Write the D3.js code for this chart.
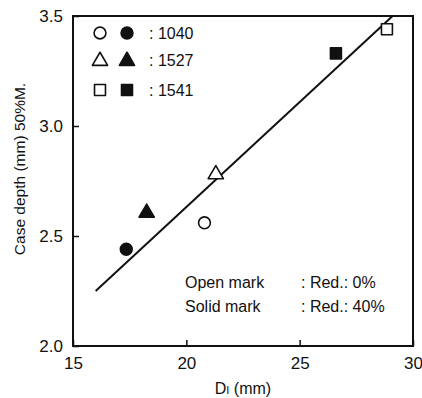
<!DOCTYPE html>
<html>
<head>
<meta charset="utf-8">
<script src="https://cdn.jsdelivr.net/npm/d3@7"></script>
<style>
  body { margin: 0; background: #fff; }
  svg text { font-family: "Liberation Sans", Arial, sans-serif; fill: #111; }
</style>
</head>
<body>
<div id="chart"></div>
<script>
// steels and their markers
const steels = ["1040", "1527", "1541"];
const shapes = ["circle", "triangle", "square"];

// measured points: DI (mm), case depth (mm)
const openPoints = [
	{ steel: "1040", di: 20.8, depth: 2.56 },
	{ steel: "1527", di: 21.3, depth: 2.785 },
	{ steel: "1541", di: 28.85, depth: 3.44 },
];
const solidPoints = [
	{ steel: "1040", di: 17.35, depth: 2.44 },
	{ steel: "1527", di: 18.25, depth: 2.61 },
	{ steel: "1541", di: 26.6, depth: 3.33 },
];

// fitted line end points
const fitLine = [[16.0, 2.25], [29.1, 3.5]];

const xTicks = [15, 20, 25, 30];
const yTicks = [2.0, 2.5, 3.0, 3.5];

const width = 422;
const height = 398;
const margins = { top: 16, right: 9, bottom: 52, left: 73 };

const svg = d3
	.select("#chart")
	.append("svg")
	.attr("width", width)
	.attr("height", height);

const x = d3
	.scaleLinear()
	.domain([15, 30])
	.range([margins.left, width - margins.right]);

const y = d3
	.scaleLinear()
	.domain([2.0, 3.5])
	.range([height - margins.bottom, margins.top]);

const ink = "#111";

// frame
svg
	.append("rect")
	.attr("x", x(15))
	.attr("y", y(3.5))
	.attr("width", x(30) - x(15))
	.attr("height", y(2.0) - y(3.5))
	.attr("fill", "none")
	.attr("stroke", ink)
	.attr("stroke-width", 2);

// axes with inward ticks
const xAxis = svg
	.append("g")
	.attr("transform", `translate(0, ${y(2.0)})`)
	.call(d3.axisBottom(x).tickValues(xTicks).tickSize(-6).tickPadding(11).tickFormat(d3.format("d")));

const yAxis = svg
	.append("g")
	.attr("transform", `translate(${x(15)}, 0)`)
	.call(d3.axisLeft(y).tickValues(yTicks).tickSize(-6).tickPadding(10).tickFormat(d3.format(".1f")));

[xAxis, yAxis].forEach((axis) => {
	axis.select(".domain").remove();
	axis.selectAll(".tick line").attr("stroke", ink).attr("stroke-width", 1.5);
	axis.selectAll(".tick text").attr("font-size", 17).attr("fill", ink);
});

// fitted line
svg
	.append("path")
	.datum(fitLine)
	.attr("d", d3.line().x((d) => x(d[0])).y((d) => y(d[1])))
	.attr("stroke", ink)
	.attr("stroke-width", 2)
	.attr("fill", "none");

const symbolOf = {
	circle: d3.symbol().type(d3.symbolCircle).size(110),
	triangle: d3.symbol().type(d3.symbolTriangle).size(100),
	square: d3.symbol().type(d3.symbolSquare).size(120),
};

function drawMarker(g, shape, cx, cy, solid) {
	g.append("path")
		.attr("d", symbolOf[shape]())
		.attr("transform", `translate(${cx}, ${cy + (shape === "triangle" ? 1 : 0)})`)
		.attr("fill", solid ? ink : "#fff")
		.attr("stroke", ink)
		.attr("stroke-width", 1.6)
		.attr("stroke-linejoin", "round");
}

const marks = svg.append("g").attr("class", "marks");
openPoints.forEach((p) => {
	const shape = shapes[steels.indexOf(p.steel)];
	drawMarker(marks, shape, x(p.di), y(p.depth), false);
});
solidPoints.forEach((p) => {
	const shape = shapes[steels.indexOf(p.steel)];
	drawMarker(marks, shape, x(p.di), y(p.depth), true);
});

// legend of steels
const legend = svg.append("g");
steels.forEach((s, i) => {
	const ly = [33, 60, 90][i];
	drawMarker(legend, shapes[i], 100, ly, false);
	drawMarker(legend, shapes[i], 127, ly, true);
	legend
		.append("text")
		.attr("x", 149)
		.attr("y", ly + 6)
		.attr("font-size", 16)
		.text(`: ${s}`);
});

// note on marks
const notes = [["Open mark", ": Red.: 0%"], ["Solid mark", ": Red.: 40%"]];
notes.forEach((n, i) => {
	const ny = 288 + i * 24;
	svg.append("text").attr("x", 185).attr("y", ny).attr("font-size", 16).text(n[0]);
	svg.append("text").attr("x", 301).attr("y", ny).attr("font-size", 16).text(n[1]);
});

// axis titles
const xTitle = svg
	.append("text")
	.attr("x", x(22.5))
	.attr("y", 394)
	.attr("text-anchor", "middle")
	.attr("font-size", 16);
xTitle.append("tspan").text("D");
xTitle.append("tspan").attr("font-size", 11).text("I");
xTitle.append("tspan").text(" (mm)");

svg
	.append("text")
	.attr("transform", `translate(25, 169) rotate(-90)`)
	.attr("text-anchor", "middle")
	.attr("font-size", 15.5)
	.text("Case depth (mm) 50%M.");
</script>
</body>
</html>
